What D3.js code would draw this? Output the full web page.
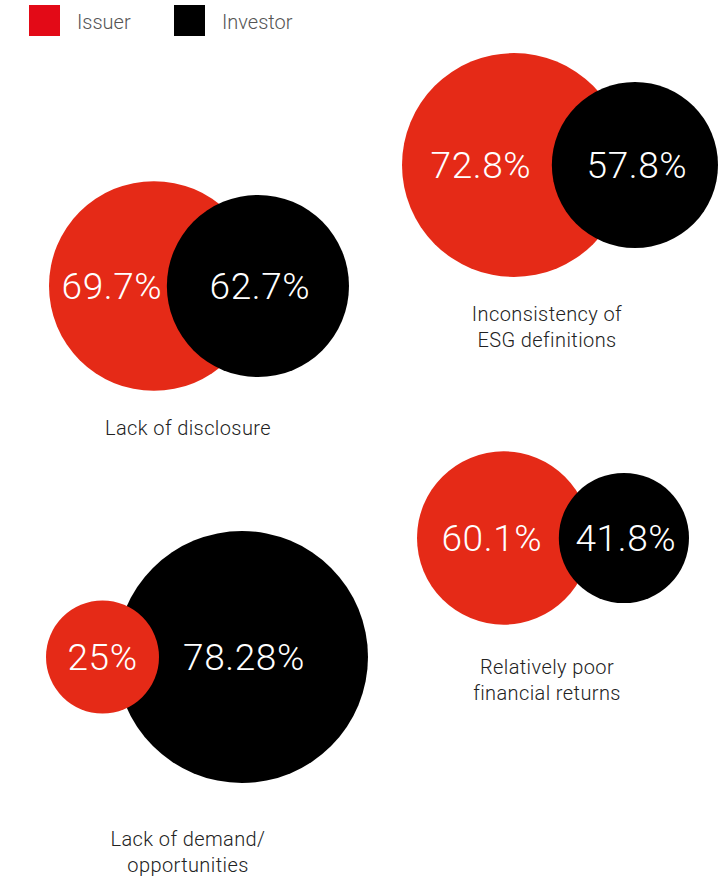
<!DOCTYPE html>
<html>
<head>
<meta charset="utf-8">
<script src="https://cdn.jsdelivr.net/npm/d3@7"></script>
<style>
  html, body { margin: 0; padding: 0; background: #ffffff; }
  svg { display: block; font-family: Roboto, 'Helvetica Neue', Arial, sans-serif; }
</style>
</head>
<body>
<svg id="chart" width="727" height="879"></svg>
<script>
// data
const seriesNames = ['Issuer', 'Investor']
const categories = [
  ['Lack of disclosure'],
  ['Inconsistency of', 'ESG definitions'],
  ['Lack of demand/', 'opportunities'],
  ['Relatively poor', 'financial returns'],
]
const issuerValues = [69.7, 72.8, 25, 60.1]
const investorValues = [62.7, 57.8, 78.28, 41.8]

// layout of each panel (outer edges of the pair, row centre, caption anchor)
const panels = [
  { left: 49, right: 349, cy: 286, labelX: 188, labelY: 435 },
  { left: 402, right: 718, cy: 165, labelX: 547, labelY: 321 },
  { left: 46, right: 368, cy: 657, labelX: 188, labelY: 846 },
  { left: 417, right: 689, cy: 538, labelX: 547, labelY: 674 },
]

const colors = { Issuer: '#e52a17', Investor: '#000000' }
const legendColors = { Issuer: '#e30a17', Investor: '#000000' }

const svg = d3.select('#chart')

// radius grows faster than the value in the original artwork
let r = d3.scalePow().exponent(3)
  .domain([25, 78.28])
  .range([56.5, 126])

// legend
let legend = svg.append('g').attr('class', 'legend')
let lx = d3.scalePoint().domain(seriesNames).range([29, 174])
legend.selectAll('g.item')
  .data(seriesNames)
  .join('g')
  .attr('class', 'item')
  .attr('transform', d => `translate(${lx(d)},5)`)
  .each(function (d) {
    let g = d3.select(this)
    g.append('rect')
      .attr('width', 31)
      .attr('height', 31)
      .attr('fill', legendColors[d])
    g.append('text')
      .attr('x', 48)
      .attr('y', 24)
      .attr('font-size', 20)
      .attr('font-weight', 300)
      .attr('fill', '#555')
      .text(d)
  })

// pairs
let pairs = categories.map((c, i) => {
  let p = panels[i]
  let ri = r(issuerValues[i])
  let rv = r(investorValues[i])
  let issuer = { name: 'Issuer', value: issuerValues[i], r: ri, cx: p.left + ri, cy: p.cy }
  let investor = { name: 'Investor', value: investorValues[i], r: rv, cx: p.right - rv, cy: p.cy }
  // label of a covered issuer circle sits in its visible part
  issuer.tx = ri > rv ? (p.left + investor.cx - rv) / 2 + 4 : issuer.cx
  investor.tx = investor.cx + 2
  // bigger circle underneath
  let circles = [issuer, investor].sort((a, b) => b.r - a.r)
  return { category: c, panel: p, circles }
})

let panel = svg.selectAll('g.pair')
  .data(pairs)
  .join('g')
  .attr('class', 'pair')

panel.selectAll('circle')
  .data(d => d.circles)
  .join('circle')
  .attr('cx', d => d.cx)
  .attr('cy', d => d.cy)
  .attr('r', d => d.r)
  .attr('fill', d => colors[d.name])

panel.selectAll('text.value')
  .data(d => d.circles)
  .join('text')
  .attr('class', 'value')
  .attr('x', d => d.tx)
  .attr('y', d => d.cy + 13)
  .attr('text-anchor', 'middle')
  .attr('font-size', 37)
  .attr('font-weight', 300)
  .attr('letter-spacing', 0.6)
  .attr('fill', '#ffffff')
  .text(d => `${d.value}%`)

panel.append('text')
  .attr('class', 'caption')
  .attr('text-anchor', 'middle')
  .attr('font-size', 20)
  .attr('font-weight', 300)
  .attr('letter-spacing', 0.4)
  .attr('fill', '#222')
  .selectAll('tspan')
  .data(d => d.category.map(line => ({ line, p: d.panel })))
  .join('tspan')
  .attr('x', d => d.p.labelX)
  .attr('y', (d, i) => d.p.labelY + i * 26)
  .text(d => d.line)
</script>
</body>
</html>
